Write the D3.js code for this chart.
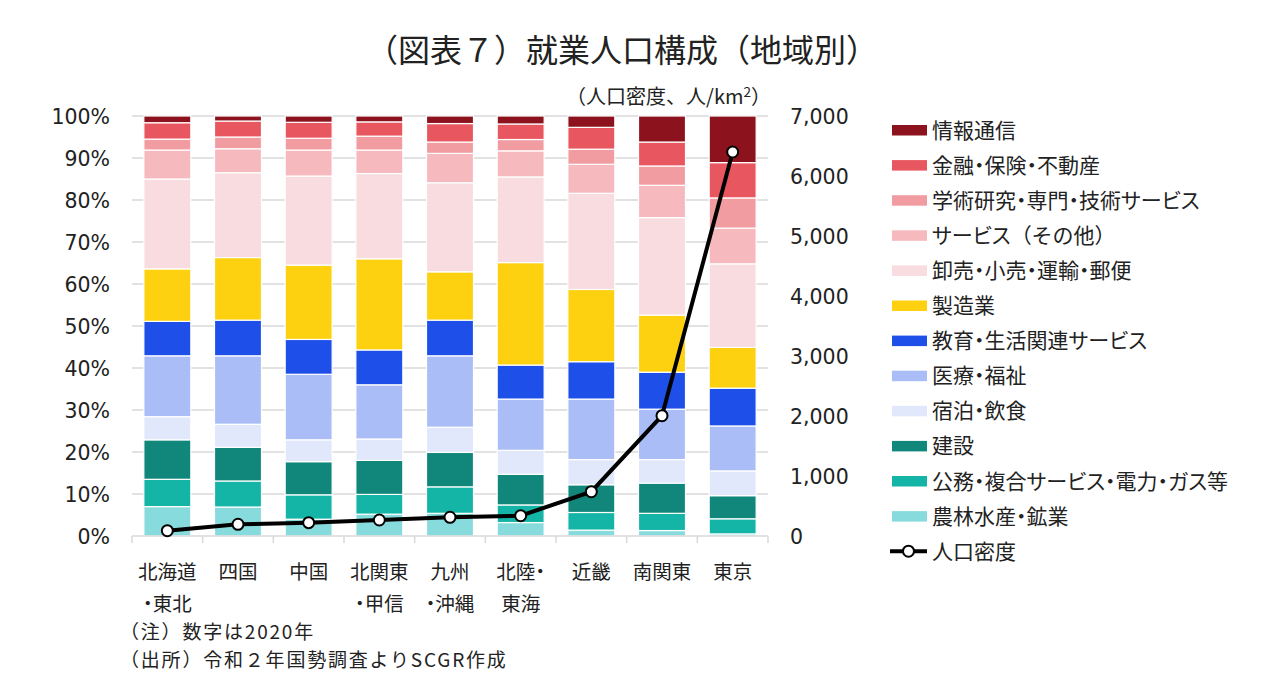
<!DOCTYPE html>
<html lang="ja">
<head>
    <meta charset="UTF-8">
    <title>就業人口構成（地域別）</title>
    <style>
        body { margin: 0; background: #fff; }
        svg { display: block; }
        text { font-family: "Noto Sans CJK JP", sans-serif; fill: #222; }
        .palt { font-feature-settings: "palt"; }
        .num { font-family: "DejaVu Sans", "Noto Sans CJK JP", sans-serif; }
    </style>
    <script src="https://d3js.org/d3.v7.min.js"></script>
</head>
<body>
    <div id="svg"></div>
    <script>
        // regions (x axis), two-line labels
        const categories = ["北海道・東北", "四国", "中国", "北関東・甲信", "九州・沖縄", "北陸・東海", "近畿", "南関東", "東京"]
        const categoryLines = [["北海道", "・東北"], ["四国"], ["中国"], ["北関東", "・甲信"], ["九州", "・沖縄"], ["北陸・", "東海"], ["近畿"], ["南関東"], ["東京"]]

        // sectors from bottom of stack to top
        const sectors = ["農林水産・鉱業", "公務・複合サービス・電力・ガス等", "建設", "宿泊・飲食", "医療・福祉", "教育・生活関連サービス", "製造業", "卸売・小売・運輸・郵便", "サービス（その他）", "学術研究・専門・技術サービス", "金融・保険・不動産", "情報通信"]
        const sectorColors = ["#88dbdc", "#14b4a6", "#11877b", "#e1e8fb", "#aabdf6", "#1e50e9", "#fdd10f", "#f9dcdf", "#f5b9be", "#f19ca1", "#e8565f", "#8c121d"]

        // shares (%) per region, one array per sector
        const nourin   = [7.0, 6.9, 4.0, 5.2, 5.4, 3.2, 1.4, 1.3, 0.5]
        const koumu    = [6.5, 6.2, 5.8, 4.7, 6.3, 4.2, 4.2, 4.1, 3.6]
        const kensetsu = [9.4, 8.0, 7.9, 8.1, 8.2, 7.3, 6.6, 7.2, 5.5]
        const shukuhaku = [5.5, 5.5, 5.2, 5.1, 6.0, 5.7, 6.0, 5.6, 5.9]
        const iryou    = [14.5, 16.3, 15.6, 12.9, 17.0, 12.2, 14.4, 12.0, 10.7]
        const kyouiku  = [8.2, 8.5, 8.3, 8.3, 8.5, 8.1, 8.9, 8.8, 9.0]
        const seizou   = [12.5, 14.9, 17.7, 21.7, 11.5, 24.4, 17.2, 13.6, 9.7]
        const oroshi   = [21.4, 20.2, 21.2, 20.3, 21.2, 20.4, 22.9, 23.2, 19.9]
        const service  = [6.9, 5.7, 6.2, 5.6, 7.0, 6.2, 6.9, 7.7, 8.5]
        const gakujutsu = [2.6, 2.8, 2.8, 3.3, 2.7, 2.7, 3.6, 4.6, 7.2]
        const kinyuu   = [3.9, 3.8, 3.8, 3.4, 4.4, 3.7, 5.2, 5.7, 8.4]
        const jouhou   = [1.6, 1.2, 1.5, 1.4, 1.8, 1.9, 2.7, 6.2, 11.1]
        const shares = [nourin, koumu, kensetsu, shukuhaku, iryou, kyouiku, seizou, oroshi, service, gakujutsu, kinyuu, jouhou]

        // population density (人/km2), right axis
        const density = [88, 195, 222, 267, 312, 338, 738, 2005, 6400]

        const leftTicks = [0, 10, 20, 30, 40, 50, 60, 70, 80, 90, 100]
        const rightTicks = [0, 1000, 2000, 3000, 4000, 5000, 6000, 7000]

        const { boxWidth, boxHeight } = { boxWidth: 1270, boxHeight: 691 }
        const { plotLeft, plotRight, plotTop, plotBottom } = { plotLeft: 132, plotRight: 768, plotTop: 116, plotBottom: 536 }

        const svg = d3.select('#svg').append('svg')
        svg.attr("width", boxWidth).attr("height", boxHeight)

        svg.append("text")
            .attr("x", 622).attr("y", 62)
            .attr("text-anchor", "middle")
            .attr("font-size", 32)
            .text("（図表７）就業人口構成（地域別）")

        const xScale = d3.scaleBand()
            .domain(categories)
            .range([plotLeft, plotRight])
            .paddingInner(0.335)
            .paddingOuter(0.1675)

        const yScale = d3.scaleLinear().domain([0, 100]).range([plotBottom, plotTop])
        const y2Scale = d3.scaleLinear().domain([0, 7000]).range([plotBottom, plotTop])

        // gridlines
        svg.append("g").selectAll("line").data(leftTicks.slice(1)).join("line")
            .attr("x1", plotLeft).attr("x2", plotRight)
            .attr("y1", d => yScale(d)).attr("y2", d => yScale(d))
            .attr("stroke", "#d9d9d9").attr("stroke-width", 1.5)

        // left axis
        const yAxis = d3.axisLeft(yScale).tickValues(leftTicks).tickFormat(d => d + "%").tickSize(0).tickPadding(22)
        const gy = svg.append("g").attr("transform", `translate(${plotLeft}, 0)`).call(yAxis)
        gy.select(".domain").remove()
        gy.selectAll("text").attr("class", "num").attr("font-size", 20.5).attr("fill", "#222").attr("dy", "0.36em")

        // right axis
        const y2Axis = d3.axisRight(y2Scale).tickValues(rightTicks).tickFormat(d3.format(",")).tickSize(0).tickPadding(22)
        const gy2 = svg.append("g").attr("transform", `translate(${plotRight}, 0)`).call(y2Axis)
        gy2.select(".domain").remove()
        gy2.selectAll("text").attr("class", "num").attr("font-size", 20.5).attr("fill", "#222").attr("dy", "0.36em")

        const unit = svg.append("text")
            .attr("x", 771).attr("y", 104)
            .attr("text-anchor", "end")
            .attr("font-size", 20)
        unit.append("tspan").text("（人口密度、人/km")
        unit.append("tspan").attr("font-size", 13.5).attr("dy", -7).text("2")
        unit.append("tspan").attr("dy", 7).text("）")

        // stacked bars
        const rows = categories.map((c, i) => {
            const row = { name: c }
            sectors.forEach((s, j) => { row[s] = shares[j][i] })
            return row
        })
        const stack = d3.stack().keys(sectors)(rows)

        svg.append("g").selectAll("g").data(stack).join("g")
            .attr("fill", (d, i) => sectorColors[i])
            .selectAll("rect").data(d => d).join("rect")
            .attr("x", d => xScale(d.data.name))
            .attr("width", xScale.bandwidth())
            .attr("y", d => yScale(d[1]))
            .attr("height", d => yScale(d[0]) - yScale(d[1]))
            .attr("stroke", "#fff").attr("stroke-width", 1.2)

        // bottom axis
        const xAxis = svg.append("g")
        xAxis.append("line")
            .attr("x1", plotLeft).attr("x2", plotRight).attr("y1", plotBottom).attr("y2", plotBottom)
            .attr("stroke", "#d9d9d9").attr("stroke-width", 1.5)
        const step = xScale.step()
        xAxis.selectAll(".tk").data(d3.range(categories.length + 1)).join("line")
            .attr("class", "tk")
            .attr("x1", i => plotLeft + i * step).attr("x2", i => plotLeft + i * step)
            .attr("y1", plotBottom).attr("y2", plotBottom + 7)
            .attr("stroke", "#d9d9d9").attr("stroke-width", 1.5)

        const labels = xAxis.selectAll(".lab").data(categories).join("text")
            .attr("class", "lab palt")
            .attr("text-anchor", "middle")
            .attr("font-size", 19.5)
        labels.selectAll("tspan").data((d, i) => categoryLines[i]).join("tspan")
            .attr("x", function () { return xScale(d3.select(this.parentNode).datum()) + xScale.bandwidth() / 2 })
            .attr("y", (d, i) => 579 + i * 32)
            .text(d => d)

        // density line
        const line = d3.line()
            .x((d, i) => xScale(categories[i]) + xScale.bandwidth() / 2)
            .y(d => y2Scale(d))
        svg.append("path").datum(density)
            .attr("d", line)
            .attr("fill", "none").attr("stroke", "#000").attr("stroke-width", 4)
        svg.append("g").selectAll("circle").data(density).join("circle")
            .attr("cx", (d, i) => xScale(categories[i]) + xScale.bandwidth() / 2)
            .attr("cy", d => y2Scale(d))
            .attr("r", 5.5)
            .attr("fill", "#fff").attr("stroke", "#000").attr("stroke-width", 2)

        // legend
        const legendNames = sectors.slice().reverse()
        const legendColors = sectorColors.slice().reverse()
        const legend = svg.append("g").attr("transform", "translate(892, 130)")
        const item = legend.selectAll("g").data(legendNames).join("g")
            .attr("transform", (d, i) => `translate(0, ${i * 35.1})`)
        item.append("rect")
            .attr("x", 0).attr("y", -5).attr("width", 35).attr("height", 10.5)
            .attr("fill", (d, i) => legendColors[i])
        // bracketed part keeps full-width spacing, the rest is proportional
        item.append("text")
            .attr("x", 40).attr("y", 0).attr("dy", "0.36em")
            .attr("font-size", 21)
            .selectAll("tspan").data(d => d.split(/(?=（)/)).join("tspan")
            .attr("class", d => d.startsWith("（") ? null : "palt")
            .text(d => d)

        const lineItem = legend.append("g").attr("transform", `translate(0, ${legendNames.length * 35.1})`)
        lineItem.append("line").attr("x1", -2).attr("x2", 35).attr("y1", 0).attr("y2", 0)
            .attr("stroke", "#000").attr("stroke-width", 4)
        lineItem.append("circle").attr("cx", 16.5).attr("cy", 0).attr("r", 5.5)
            .attr("fill", "#fff").attr("stroke", "#000").attr("stroke-width", 2)
        lineItem.append("text").attr("x", 40).attr("y", 0).attr("dy", "0.36em")
            .attr("font-size", 21).text("人口密度")

        // notes
        svg.append("text").attr("x", 120).attr("y", 639).attr("font-size", 19)
            .attr("letter-spacing", 1.8).text("（注）数字は2020年")
        svg.append("text").attr("x", 120).attr("y", 667).attr("font-size", 19)
            .attr("letter-spacing", 1.8).text("（出所）令和２年国勢調査よりSCGR作成")
    </script>
</body>
</html>
